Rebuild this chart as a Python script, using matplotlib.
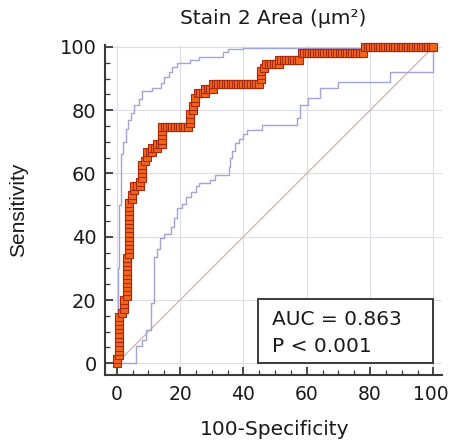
import matplotlib
matplotlib.use("Agg")
import matplotlib.pyplot as plt
import matplotlib.transforms as mtransforms
from matplotlib.ticker import MultipleLocator
from matplotlib.patches import Rectangle

plt.rcParams['font.family'] = ['DejaVu Sans']

title = "Stain 2 Area (µm²)"
xlabel = "100-Specificity"
ylabel = "Sensitivity"
auc_text = "AUC = 0.863"
p_text = "P < 0.001"
tick_values = [0, 20, 40, 60, 80, 100]

# ROC curve points (100-specificity, sensitivity)
roc_x = [0, 0,
         0.8, 0.8, 0.8, 0.8, 0.8, 0.8, 0.8, 0.8, 0.8, 0.8,
         1.6,
         2.4, 2.4, 2.4,
         3.2, 3.2, 3.2, 3.2, 3.2, 3.2, 3.2, 3.2, 3.2, 3.2,
         4, 4, 4, 4, 4, 4, 4, 4, 4, 4, 4, 4, 4,
         4.8, 4.8,
         5.6, 5.6,
         6.4, 7.2, 7.2,
         8, 8, 8, 8,
         8.8,
         9.6, 9.6,
         10.4, 11.2, 11.2,
         12, 12.8, 12.8,
         13.6, 14.4, 14.4, 14.4, 14.4, 14.4,
         15.2, 16, 16.8, 17.6, 18.4, 19.2, 20, 20.8, 21.6, 22.4,
         23.2, 23.2, 23.2,
         24, 24,
         24.8, 24.8,
         25.6,
         26.4, 27.2, 28, 28,
         28.8, 29.6, 30.4, 30.4,
         31.2, 32, 32.8, 33.6, 34.4, 35.2, 36, 36.8, 37.6, 38.4, 39.2, 40,
         40.8, 41.6, 42.4, 43.2, 44, 44.8,
         45.6, 45.6, 45.6,
         46.4,
         47.2,
         48, 48.8, 49.6, 50.4, 51.2, 51.2,
         52, 52.8, 53.6, 54.4, 55.2, 56, 56.8, 57.6,
         58.4, 59.2, 60, 60.8, 61.6, 62.4, 63.2, 64, 64.8, 65.6, 66.4, 67.2,
         68, 68.8, 69.6, 70.4, 71.2, 72, 72.8, 73.6, 74.4, 75.2, 76, 76.8, 77.6,
         78.4, 79.2, 80, 80.8, 81.6, 82.4, 83.2, 84, 84.8, 85.6, 86.4, 87.2,
         88, 88.8, 89.6, 90.4, 91.2, 92, 92.8, 93.6, 94.4, 95.2, 96, 96.8,
         97.6, 98.4, 99.2, 100]
roc_y = [0, 1.3,
         2.7, 4, 5.3, 6.7, 8, 9.3, 10.7, 12, 13.3, 14.7,
         16,
         17.3, 18.7, 20,
         21.3, 22.7, 24, 25.3, 26.7, 28, 29.3, 30.7, 32, 33.3,
         34.7, 36, 37.3, 38.7, 40, 41.3, 42.7, 44, 45.3, 46.7, 48, 49.3, 50.7,
         52, 53.3,
         54.7, 56,
         56, 56, 57.3,
         58.7, 60, 61.3, 62.7,
         64,
         65.3, 66.7,
         66.7, 66.7, 68,
         68, 68, 69.3,
         69.3, 69.3, 70.7, 72, 73.3, 74.7,
         74.7, 74.7, 74.7, 74.7, 74.7, 74.7, 74.7, 74.7, 74.7, 74.7,
         76, 77.3, 78.7,
         80, 81.3,
         82.7, 84,
         85.3,
         85.3, 85.3, 85.3, 86.7,
         86.7, 86.7, 86.7, 88.4,
         88.4, 88.4, 88.4, 88.4, 88.4, 88.4, 88.4, 88.4, 88.4, 88.4, 88.4, 88.4,
         88.4, 88.4, 88.4, 88.4, 88.4, 88.4,
         89.7, 91, 92.3,
         93.3,
         94.7,
         94.7, 94.7, 94.7, 94.7, 94.7, 96,
         96, 96, 96, 96, 96, 96, 96, 96,
         98, 98, 98, 98, 98, 98, 98, 98, 98, 98, 98, 98,
         98, 98, 98, 98, 98, 98, 98, 98, 98, 98, 98, 98, 98,
         100, 100, 100, 100, 100, 100, 100, 100, 100, 100, 100, 100,
         100, 100, 100, 100, 100, 100, 100, 100, 100, 100, 100, 100,
         100, 100, 100, 100]

# Upper confidence bound (step vertices)
upper_x = [0, 0.5, 0.5, 0.8, 0.8, 1.2, 1.2, 1.5, 1.5, 2, 2, 2.8, 2.8, 3.5, 3.5,
           4.5, 4.5, 5.5, 5.5, 7, 7, 8, 8, 11, 11, 14, 14, 15, 15, 16.5, 16.5,
           17.5, 17.5, 19, 19, 23, 23, 26, 26, 33.5, 33.5, 35, 35, 40, 40, 100]
upper_y = [0, 0, 30, 30, 50, 50, 60, 60, 66, 66, 70, 70, 74, 74, 77,
           77, 79, 79, 81.5, 81.5, 83.5, 83.5, 86, 86, 87, 87, 88.5, 88.5, 90.5, 90.5, 92,
           92, 93.5, 93.5, 95, 95, 96, 96, 96.7, 96.7, 98.5, 98.5, 99.2, 99.2, 99.7, 99.7]

# Lower confidence bound (step vertices)
lower_x = [0, 6, 6, 8, 8, 9.3, 9.3, 10.7, 10.7, 11.7, 11.7, 12.7, 12.7, 13.7, 13.7,
           15, 15, 17, 17, 18, 18, 19, 19, 20.5, 20.5, 22, 22, 23.5, 23.5, 25, 25,
           26, 26, 29.5, 29.5, 31, 31, 35.3, 35.3, 35.8, 35.8, 36.5, 36.5, 37.5, 37.5,
           38.5, 38.5, 40, 40, 41, 41, 46, 46, 57, 57, 58, 58, 60.5, 60.5, 64.2, 64.2,
           70, 70, 86.3, 86.3, 100, 100]
lower_y = [0, 0, 5.5, 5.5, 7.5, 7.5, 10.5, 10.5, 19, 19, 33.5, 33.5, 36, 36, 39.5,
           39.5, 41, 41, 43, 43, 46, 46, 49, 49, 50.5, 50.5, 52.5, 52.5, 54, 54, 56,
           56, 57, 57, 58, 58, 59.5, 59.5, 62, 62, 65, 65, 67, 67, 69.5,
           69.5, 71, 71, 72.5, 72.5, 73.8, 73.8, 75.2, 75.2, 77.5, 77.5, 81.6, 81.6, 84, 84,
           87, 87, 89, 89, 92, 92, 100]

diag_x = [0, 100]
diag_y = [0, 100]

fig = plt.figure(figsize=(4.5, 4.41), dpi=100)
ax = fig.add_axes([105 / 450, 66 / 441, 337 / 450, 330 / 441])

ax.set_xlim(-3.7, 102.7)
ax.set_ylim(-3.7, 100.6)

ax.plot(diag_x, diag_y, color='#cfb0ae', lw=0.9, zorder=2)
ax.plot(upper_x, upper_y, color='#a3a3dc', lw=1.0, zorder=3)
ax.plot(lower_x, lower_y, color='#a3a3dc', lw=1.0, zorder=3)
ax.plot(roc_x, roc_y, linestyle='none', marker='s', markersize=5.4,
        markerfacecolor='#f2661c', markeredgecolor='#a8280c', markeredgewidth=0.8,
        zorder=5, clip_on=False)

for s in ['top', 'right']:
    ax.spines[s].set_visible(False)
for s in ['left', 'bottom']:
    ax.spines[s].set_color('#3a3a3a')
    ax.spines[s].set_linewidth(1.5)

ax.xaxis.set_minor_locator(MultipleLocator(5))
ax.yaxis.set_minor_locator(MultipleLocator(5))
ax.set_xticks(tick_values)
ax.set_yticks(tick_values)
ax.tick_params(which='major', direction='in', length=6, width=1.3, color='#3a3a3a',
               labelsize=13.5, labelcolor='#1a1a1a')
ax.tick_params(axis='y', which='major', labelsize=14)
ax.tick_params(which='minor', direction='in', length=3.5, width=0.9, color='#3a3a3a')
ax.tick_params(axis='x', which='major', pad=7)
ax.tick_params(axis='y', which='major', pad=6)

# nudge the last x tick label slightly inward so it stays inside the figure
last_lbl = ax.get_xticklabels()[-1]
last_lbl.set_transform(last_lbl.get_transform() +
                       mtransforms.ScaledTranslation(-3 / 100, 0, fig.dpi_scale_trans))

ax.grid(True, which='major', color='#dcdce4', lw=0.8, zorder=0)
ax.set_axisbelow(True)

ax.set_title(title, fontsize=14.5, pad=15, color='#1a1a1a')
ax.set_xlabel(xlabel, fontsize=14.5, color='#1a1a1a')
ax.set_ylabel(ylabel, fontsize=15, color='#1a1a1a', family=['Liberation Sans', 'DejaVu Sans'])
ax.xaxis.set_label_coords(0.504, -0.136)
ax.yaxis.set_label_coords(-0.228, 0.5)

box = Rectangle((44.6, 0), 55.4, 20.3, facecolor='white', edgecolor='#3a3a3a',
                lw=1.4, zorder=6)
ax.add_patch(box)
ax.text(49, 12.1, auc_text, fontsize=14.5, va='baseline', ha='left', zorder=7, color='#1a1a1a')
ax.text(49, 3.6, p_text, fontsize=14.5, va='baseline', ha='left', zorder=7, color='#1a1a1a')

fig.savefig("out.png", dpi=100)
